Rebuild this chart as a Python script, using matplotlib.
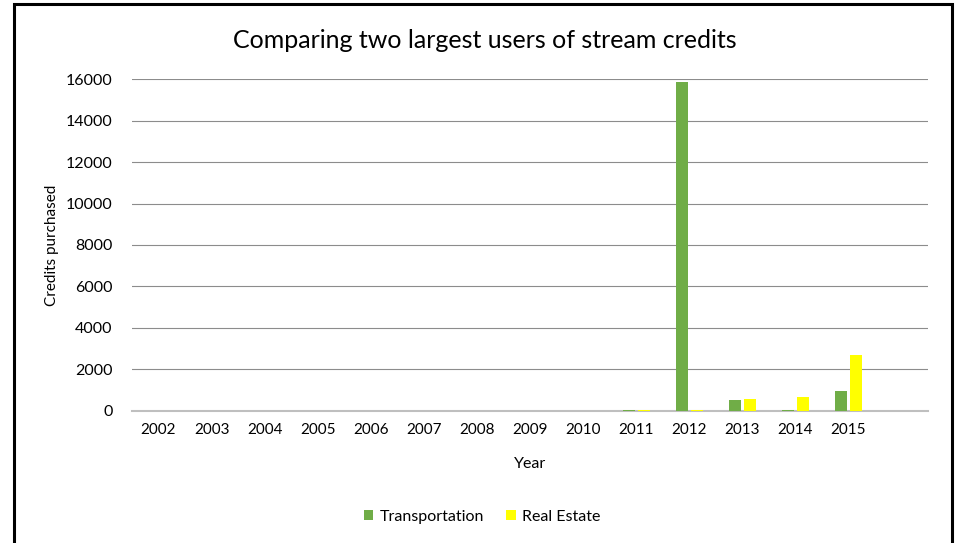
import numpy as np
import matplotlib.pyplot as plt
from matplotlib.patches import Rectangle

# Chart data
Years = ["2002", "2003", "2004", "2005", "2006", "2007", "2008", "2009", "2010",
         "2011", "2012", "2013", "2014", "2015", ""]
Transportation = [0, 0, 0, 0, 0, 0, 0, 0, 0, 50, 15870, 520, 40, 950, 0]
Real_Estate = [0, 0, 0, 0, 0, 0, 0, 0, 0, 30, 50, 570, 680, 2680, 0]
Y_Ticks = [0, 2000, 4000, 6000, 8000, 10000, 12000, 14000, 16000]

plt.rcParams['font.family'] = ['Lato', 'DejaVu Sans']

fig = plt.figure(figsize=(9.55, 5.43), dpi=100)
ax = fig.add_axes([132/955, (543-410.7)/543, (928-132)/955, (410.7-79.3)/543])

# Excel-like clustered columns: gap width 219 %, overlap -27 %
x = np.arange(len(Years))
w = 1/4.46
off = (w + 0.27*w)/2
ax.bar(x - off, Transportation, width=w, color="#70AD47", label="Transportation", zorder=3)
ax.bar(x + off, Real_Estate, width=w, color="#FFFF00", label="Real Estate", zorder=3)

ax.set_xlim(-0.5, len(Years) - 0.5)
ax.set_ylim(0, 16000)
ax.set_xticks(x)
ax.set_xticklabels(Years, fontsize=11)
ax.set_yticks(Y_Ticks)
ax.set_yticklabels([str(v) for v in Y_Ticks], fontsize=11.5)
ax.tick_params(axis='x', length=0, pad=9)
ax.tick_params(axis='y', length=0, pad=14)
for s in ["top", "right", "left"]:
    ax.spines[s].set_visible(False)
ax.spines["bottom"].set_color("#bfbfbf")
ax.spines["bottom"].set_linewidth(1.5)
ax.spines["bottom"].set_zorder(2)
ax.yaxis.grid(True, color="#8c8c8c", linewidth=0.8, zorder=0)

ax.set_ylabel("Credits purchased", fontsize=11, labelpad=5)
ax.set_xlabel("Year", fontsize=11.5, labelpad=14)

fig.text(0.508, 0.925, "Comparing two largest users of stream credits", ha="center", va="center", fontsize=18)

fig.legend(loc="center", bbox_to_anchor=(0.505, 0.048), ncol=2, frameon=False, fontsize=11.5,
           handlelength=0.6, handleheight=0.6, handletextpad=0.4, columnspacing=1.4)

# Outer chart border
fig.patches.append(Rectangle((13.5/955, -0.02), (951.5-13.5)/955, (543-4)/543 + 0.02,
                             transform=fig.transFigure, fill=False, edgecolor="black", linewidth=2.2))

plt.savefig("out.png", dpi=100)
